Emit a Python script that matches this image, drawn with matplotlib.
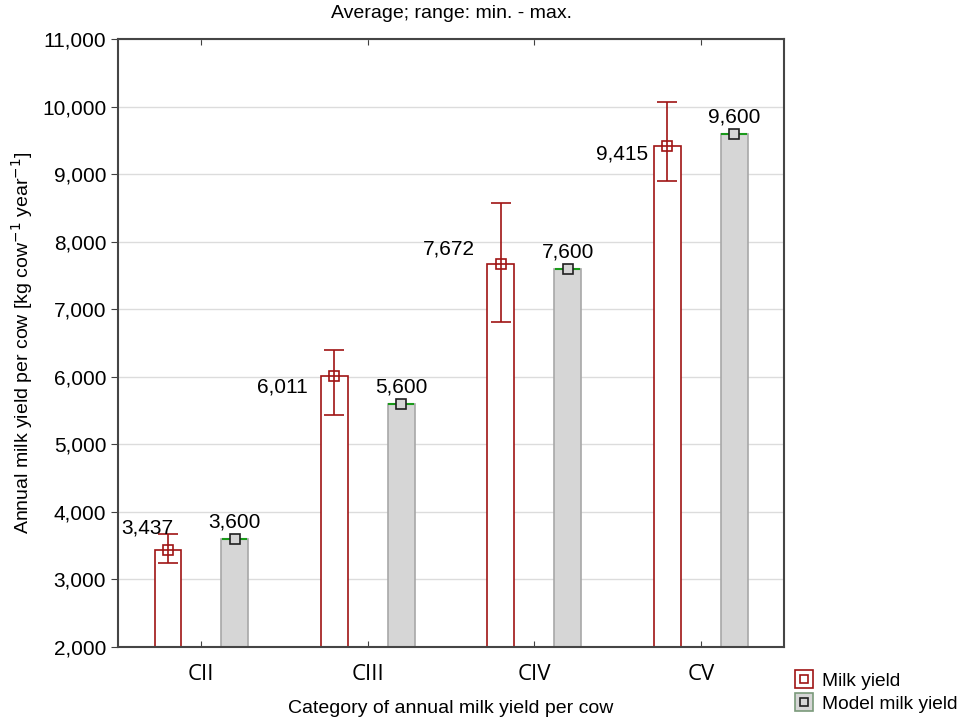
import numpy as np
import matplotlib
matplotlib.use('Agg')
import matplotlib.pyplot as plt
from matplotlib.lines import Line2D
from matplotlib.legend_handler import HandlerTuple

plt.rcParams['font.family'] = ['Liberation Sans', 'DejaVu Sans']
plt.rcParams['mathtext.fontset'] = 'custom'
plt.rcParams['mathtext.rm'] = 'Liberation Sans'

categories = ['CII', 'CIII', 'CIV', 'CV']
milk_mean = [3437, 6011, 7672, 9415]
milk_min = [3250, 5430, 6810, 8900]
milk_max = [3670, 6400, 8570, 10070]
model_mean = [3600, 5600, 7600, 9600]

# label offsets (points) for the milk yield values, relative to the mean marker
milk_label_offsets = [(4, 16), (-19, -8), (-19, 11), (-14, -6)]

red = '#a01414'
grey_fill = '#d6d6d6'
grey_edge = '#a8a8a8'

fig = plt.figure(figsize=(9.62, 7.19), dpi=100)
ax = fig.add_axes([0.1227, 0.1001, 0.8150 - 0.1227, 0.9458 - 0.1001])

x = np.arange(len(categories))
off = 0.2
w = 0.162

ax.set_axisbelow(True)
ax.yaxis.grid(True, color='#dcdcdc', linewidth=1)

# milk yield: hollow bars, mean marker, min-max range
ax.bar(x - off, np.array(milk_mean) - 2000, bottom=2000, width=w,
       facecolor='white', edgecolor=red, linewidth=1.2, zorder=2)
err = [np.array(milk_mean) - np.array(milk_min), np.array(milk_max) - np.array(milk_mean)]
ax.errorbar(x - off, milk_mean, yerr=err, fmt='none', ecolor=red,
            elinewidth=1.2, capsize=7.5, capthick=1.2, zorder=3)
ax.plot(x - off, milk_mean, 's', markersize=7, markerfacecolor='none',
        markeredgecolor=red, markeredgewidth=1.2, zorder=4)

# model milk yield: grey bars with green top and square marker
ax.bar(x + off, np.array(model_mean) - 2000, bottom=2000, width=w,
       facecolor=grey_fill, edgecolor=grey_edge, linewidth=1.2, zorder=2)
for xi, v in zip(x + off, model_mean):
    ax.plot([xi - w / 2 + 0.01, xi + w / 2 - 0.01], [v, v], color='#1a9a1a', lw=1.5, zorder=3)
ax.plot(x + off, model_mean, 's', markersize=7, markerfacecolor=grey_fill,
        markeredgecolor='#202020', markeredgewidth=1.2, zorder=4)

for xi, v, (dx, dy) in zip(x - off, milk_mean, milk_label_offsets):
    ax.annotate(f'{v:,}', (xi, v), xytext=(dx, dy), textcoords='offset points',
                ha='right', va='center', fontsize=15)
for xi, v in zip(x + off, model_mean):
    ax.annotate(f'{v:,}', (xi, v), xytext=(0, 12), textcoords='offset points',
                ha='center', va='center', fontsize=15)

ax.set_xlim(-0.5, len(categories) - 0.5)
ax.set_ylim(2000, 11000)
ax.set_yticks(np.arange(2000, 11001, 1000))
ax.yaxis.set_major_formatter(matplotlib.ticker.FuncFormatter(lambda v, p: f'{int(v):,}'))
ax.set_xticks(x)
ax.set_xticklabels(categories, fontsize=16, family=['Open Sans', 'DejaVu Sans'])
ax.tick_params(axis='y', labelsize=15, direction='out', length=5, color='#404040')
ax.tick_params(axis='x', direction='in', length=4, top=True, pad=12, color='#404040')

for s in ax.spines.values():
    s.set_color('#454545')
    s.set_linewidth(1.5)

ax.set_title('Average; range: min. - max.', fontsize=14, pad=15)
ax.set_xlabel('Category of annual milk yield per cow', fontsize=14, labelpad=11)
ax.set_ylabel('Annual milk yield per cow [kg cow$^{\\mathsf{-1}}$ year$^{\\mathsf{-1}}$]',
              fontsize=14, labelpad=5)

# legend handles: outer square with inner marker
h1 = (Line2D([], [], marker='s', ls='none', markersize=13, markerfacecolor='white',
             markeredgecolor=red, markeredgewidth=1.2),
      Line2D([], [], marker='s', ls='none', markersize=6, markerfacecolor='none',
             markeredgecolor=red, markeredgewidth=1.2))
h2 = (Line2D([], [], marker='s', ls='none', markersize=13, markerfacecolor=grey_fill,
             markeredgecolor='#7a9a7a', markeredgewidth=1.2),
      Line2D([], [], marker='s', ls='none', markersize=6, markerfacecolor=grey_fill,
             markeredgecolor='#202020', markeredgewidth=1.2))
fig.legend([h1, h2], ['Milk yield', 'Model milk yield'],
           handler_map={tuple: HandlerTuple(ndivide=1, pad=0)},
           loc='lower left', bbox_to_anchor=(0.822, 0.003), frameon=False,
           fontsize=13.8, handlelength=1.0, handletextpad=0.45, labelspacing=0.3,
           borderaxespad=0, borderpad=0.2)

fig.savefig('out.png', dpi=100)
